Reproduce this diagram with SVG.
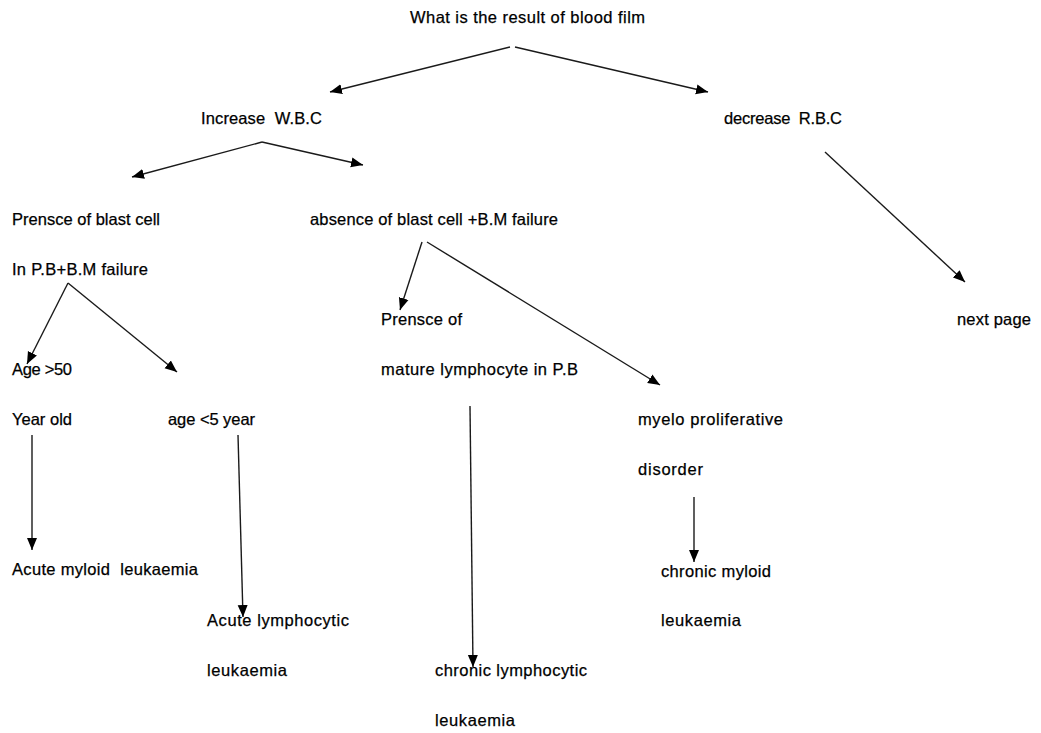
<svg xmlns="http://www.w3.org/2000/svg" width="1041" height="733" viewBox="0 0 1041 733">
<style>
text{font-family:"Liberation Sans",Arial,sans-serif;font-size:16.5px;fill:#000;stroke:#000;stroke-width:0.25;white-space:pre}
.c line{stroke:#1a1a1a;stroke-width:1.4;marker-end:url(#ah)}
</style>
<defs>
<marker id="ah" markerUnits="userSpaceOnUse" markerWidth="13" markerHeight="11" refX="12" refY="5.5" orient="auto">
<path d="M0,0.5 L12,5.5 L0,10.5 z" fill="#000"/>
</marker>
</defs>
<rect width="1041" height="733" fill="#fff"/>
<g id="n-root"><text x="410" y="23" textLength="235" lengthAdjust="spacing">What is the result of blood film</text></g>
<g id="n-wbc"><text x="201" y="124" textLength="121" lengthAdjust="spacing">Increase  W.B.C</text></g>
<g id="n-rbc"><text x="724" y="124" textLength="118" lengthAdjust="spacing">decrease  R.B.C</text></g>
<g id="n-blast"><text x="12" y="225" textLength="148" lengthAdjust="spacing">Prensce of blast cell</text><text x="12" y="275" textLength="136" lengthAdjust="spacing">In P.B+B.M failure</text></g>
<g id="n-absence"><text x="310" y="225" textLength="248" lengthAdjust="spacing">absence of blast cell +B.M failure</text></g>
<g id="n-age50"><text x="12" y="375" textLength="60" lengthAdjust="spacing">Age &gt;50</text><text x="12" y="425" textLength="60" lengthAdjust="spacing">Year old</text></g>
<g id="n-age5"><text x="168" y="425" textLength="87" lengthAdjust="spacing">age &lt;5 year</text></g>
<g id="n-mature"><text x="381" y="325" textLength="81" lengthAdjust="spacing">Prensce of</text><text x="381" y="375" textLength="197" lengthAdjust="spacing">mature lymphocyte in P.B</text></g>
<g id="n-myelo"><text x="638" y="425" textLength="145" lengthAdjust="spacing">myelo proliferative</text><text x="638" y="475" textLength="65" lengthAdjust="spacing">disorder</text></g>
<g id="n-next"><text x="957" y="325" textLength="74" lengthAdjust="spacing">next page</text></g>
<g id="n-aml"><text x="12" y="575" textLength="186" lengthAdjust="spacing">Acute myloid  leukaemia</text></g>
<g id="n-all"><text x="207" y="626" textLength="142" lengthAdjust="spacing">Acute lymphocytic</text><text x="207" y="676" textLength="80" lengthAdjust="spacing">leukaemia</text></g>
<g id="n-cml"><text x="661" y="577" textLength="110" lengthAdjust="spacing">chronic myloid</text><text x="661" y="626" textLength="80" lengthAdjust="spacing">leukaemia</text></g>
<g id="n-cll"><text x="435" y="676" textLength="152" lengthAdjust="spacing">chronic lymphocytic</text><text x="435" y="726" textLength="80" lengthAdjust="spacing">leukaemia</text></g>
<g id="connectors" class="c">
<line x1="510" y1="47" x2="330" y2="92"/>
<line x1="515" y1="47" x2="708" y2="92"/>
<line x1="262" y1="142" x2="132" y2="177"/>
<line x1="262" y1="142" x2="363" y2="165"/>
<line x1="825" y1="152" x2="965" y2="282"/>
<line x1="68" y1="283" x2="27" y2="364"/>
<line x1="68" y1="283" x2="177" y2="372"/>
<line x1="422" y1="242" x2="400" y2="310"/>
<line x1="427" y1="242" x2="660" y2="385"/>
<line x1="32" y1="435" x2="32" y2="550"/>
<line x1="238" y1="435" x2="243" y2="617"/>
<line x1="470" y1="406" x2="473" y2="667"/>
<line x1="694" y1="497" x2="694" y2="562"/>
</g>
</svg>
